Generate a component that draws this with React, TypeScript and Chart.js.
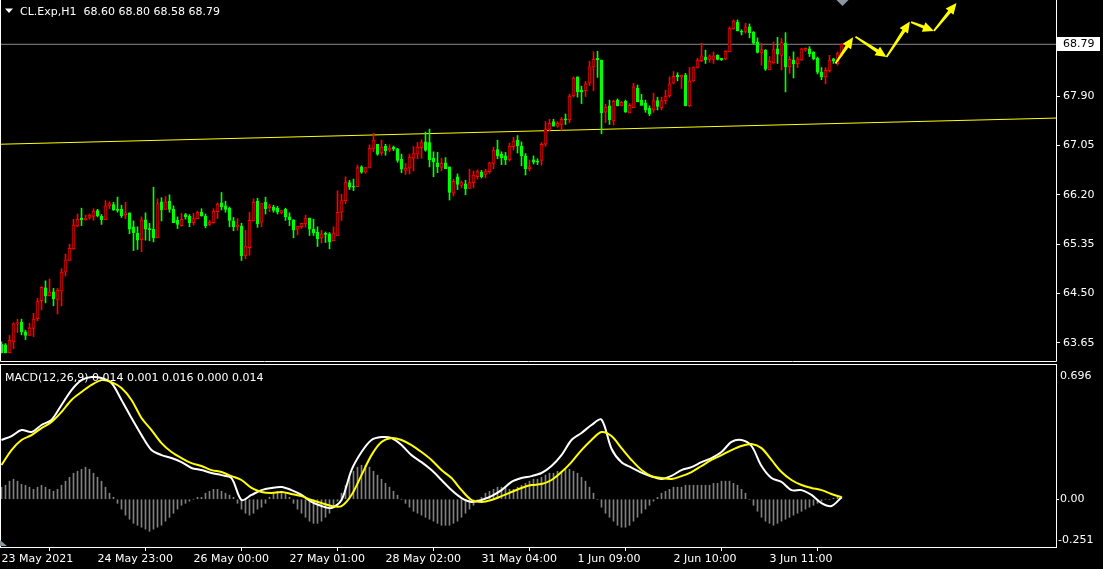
import React, { useEffect, useRef } from "react";
import { Chart, registerables } from "chart.js";

Chart.register(...registerables);

const FONT = "'DejaVu Sans', 'Liberation Sans', sans-serif";
const RED = "#ff0000";
const GREEN = "#00ff00";
const YELLOW = "#ffff00";

// ---------------- price data (CL.Exp, H1) ----------------
const opens = [
  63.63, 63.62, 63.48, 63.67, 63.98, 64.01, 63.84, 63.78, 63.90, 64.07,
  64.38, 64.60, 64.46, 64.53, 64.40, 64.54, 64.88, 65.07, 65.27, 65.66,
  65.80, 65.77, 65.81, 65.83, 65.93, 65.83, 65.77, 66.01, 66.03, 65.95,
  65.95, 65.86, 65.89, 65.65, 65.54, 65.43, 65.77, 65.61, 65.61, 65.46,
  66.08, 65.95, 66.09, 65.95, 65.76, 65.67, 65.86, 65.83, 65.72, 65.79,
  65.90, 65.83, 65.69, 65.72, 65.91, 66.06, 66.01, 65.97, 65.75, 65.65,
  65.66, 65.15, 65.29, 65.75, 66.09, 65.73, 66.07, 65.98, 65.99, 65.97,
  65.89, 65.95, 65.82, 65.77, 65.61, 65.65, 65.70, 65.80, 65.61, 65.56,
  65.46, 65.53, 65.53, 65.41, 65.50, 65.90, 66.10, 66.41, 66.34, 66.34,
  66.68, 66.59, 66.67, 67.00, 67.07, 66.92, 67.04, 66.97, 67.02, 66.99,
  66.81, 66.62, 66.66, 66.83, 66.90, 67.01, 67.11, 67.10, 66.83, 66.75,
  66.67, 66.75, 66.68, 66.23, 66.51, 66.36, 66.39, 66.31, 66.41, 66.51,
  66.59, 66.55, 66.60, 66.74, 66.98, 66.90, 66.87, 66.80, 67.03, 67.14,
  67.04, 66.87, 66.65, 66.80, 66.78, 66.79, 67.07, 67.33, 67.46, 67.38,
  67.41, 67.50, 67.49, 67.90, 68.23, 68.00, 67.99, 68.12, 68.40, 68.55,
  68.52, 67.62, 67.73, 67.47, 67.83, 67.73, 67.81, 67.61, 67.70, 68.03,
  67.83, 67.78, 67.69, 67.66, 67.82, 67.70, 67.82, 67.90, 68.12, 68.26,
  68.23, 68.26, 67.73, 68.16, 68.39, 68.51, 68.57, 68.53, 68.53, 68.60,
  68.55, 68.54, 68.66, 69.06, 69.17, 69.01, 69.01, 69.09, 69.00, 68.83,
  68.64, 68.69, 68.35, 68.47, 68.71, 68.60, 68.81, 68.40, 68.52, 68.45,
  68.52, 68.69, 68.71, 68.66, 68.55, 68.31, 68.23, 68.33, 68.54, 68.45, 68.60,
];
const highs = [
  63.67, 63.64, 63.78, 64.00, 64.06, 64.06, 63.87, 63.99, 64.16, 64.42,
  64.62, 64.72, 64.75, 64.59, 64.59, 64.93, 65.18, 65.35, 65.78, 65.87,
  65.97, 65.85, 65.87, 65.96, 65.95, 65.86, 66.10, 66.08, 66.07, 66.16,
  66.02, 66.07, 65.89, 65.75, 65.65, 65.82, 65.89, 65.71, 66.33, 66.13,
  66.15, 66.17, 66.20, 66.01, 65.82, 65.88, 65.88, 65.86, 65.88, 65.92,
  65.96, 65.87, 65.76, 65.96, 66.06, 66.24, 66.09, 65.99, 65.81, 65.79,
  65.71, 65.59, 65.90, 66.13, 66.14, 66.05, 66.16, 66.04, 66.02, 66.00,
  65.93, 65.97, 65.89, 65.77, 65.66, 65.71, 65.85, 65.80, 65.78, 65.65,
  65.59, 65.56, 65.55, 65.65, 66.27, 66.21, 66.51, 66.45, 66.47, 66.71,
  66.70, 66.67, 67.06, 67.26, 67.07, 67.14, 67.07, 67.06, 67.04, 67.00,
  66.90, 66.74, 66.90, 67.03, 67.10, 67.15, 67.28, 67.33, 66.94, 66.93,
  66.83, 66.84, 66.68, 66.47, 66.56, 66.44, 66.45, 66.64, 66.61, 66.63,
  66.62, 66.64, 66.76, 67.02, 67.14, 66.94, 66.93, 67.09, 67.19, 67.22,
  67.11, 66.91, 66.80, 66.87, 66.82, 67.10, 67.46, 67.50, 67.50, 67.46,
  67.53, 67.59, 67.93, 68.23, 68.23, 68.07, 68.15, 68.50, 68.66, 68.67,
  68.52, 67.76, 67.83, 67.83, 67.85, 67.81, 67.83, 67.77, 68.12, 68.09,
  67.93, 67.83, 67.73, 67.95, 67.88, 67.88, 68.00, 68.23, 68.32, 68.30,
  68.26, 68.29, 68.39, 68.40, 68.55, 68.81, 68.69, 68.61, 68.66, 68.61,
  68.55, 68.68, 69.09, 69.21, 69.21, 69.04, 69.15, 69.14, 69.01, 68.90,
  68.81, 68.70, 68.58, 68.83, 68.91, 68.89, 68.99, 68.58, 68.66, 68.57,
  68.72, 68.73, 68.75, 68.66, 68.57, 68.39, 68.39, 68.60, 68.55, 68.66, 68.80,
];
const lows = [
  63.48, 63.48, 63.48, 63.55, 63.83, 63.79, 63.71, 63.78, 63.76, 64.03,
  64.22, 64.34, 64.46, 64.29, 64.15, 64.29, 64.80, 65.07, 65.26, 65.65,
  65.67, 65.76, 65.78, 65.76, 65.82, 65.69, 65.77, 65.96, 65.93, 65.90,
  65.81, 65.79, 65.53, 65.24, 65.26, 65.22, 65.42, 65.41, 65.39, 65.46,
  65.75, 65.95, 65.90, 65.72, 65.62, 65.66, 65.78, 65.65, 65.68, 65.79,
  65.83, 65.63, 65.67, 65.71, 65.79, 65.94, 65.90, 65.65, 65.58, 65.59,
  65.07, 65.10, 65.16, 65.75, 65.64, 65.65, 65.87, 65.91, 65.90, 65.87,
  65.87, 65.76, 65.67, 65.46, 65.51, 65.62, 65.64, 65.50, 65.50, 65.31,
  65.37, 65.38, 65.27, 65.41, 65.50, 65.76, 66.05, 66.29, 66.27, 66.34,
  66.57, 66.57, 66.66, 66.94, 66.88, 66.88, 66.88, 66.94, 66.96, 66.76,
  66.58, 66.55, 66.56, 66.61, 66.82, 66.83, 66.95, 66.68, 66.51, 66.58,
  66.61, 66.65, 66.11, 66.18, 66.29, 66.32, 66.20, 66.31, 66.32, 66.47,
  66.49, 66.49, 66.57, 66.65, 66.82, 66.72, 66.72, 66.78, 66.97, 66.92,
  66.70, 66.54, 66.61, 66.73, 66.72, 66.71, 67.03, 67.30, 67.38, 67.36,
  67.31, 67.41, 67.44, 67.88, 67.88, 67.77, 67.89, 68.08, 67.99, 68.22,
  67.25, 67.44, 67.41, 67.40, 67.73, 67.73, 67.62, 67.61, 67.70, 67.80,
  67.74, 67.62, 67.56, 67.62, 67.66, 67.66, 67.76, 67.88, 68.11, 68.16,
  68.03, 67.73, 67.72, 68.15, 68.38, 68.49, 68.46, 68.48, 68.46, 68.52,
  68.51, 68.52, 68.66, 69.05, 69.02, 68.95, 68.98, 68.90, 68.79, 68.64,
  68.43, 68.34, 68.35, 68.46, 68.46, 68.35, 67.97, 68.29, 68.21, 68.39,
  68.51, 68.67, 68.58, 68.52, 68.28, 68.18, 68.11, 68.31, 68.46, 68.43, 68.58,
];
const closes = [
  63.48, 63.48, 63.70, 63.98, 63.99, 63.84, 63.78, 63.91, 64.06, 64.37,
  64.61, 64.46, 64.53, 64.41, 64.56, 64.87, 65.08, 65.28, 65.68, 65.78,
  65.77, 65.80, 65.85, 65.92, 65.84, 65.77, 66.01, 66.05, 65.94, 65.93,
  65.84, 65.89, 65.61, 65.55, 65.42, 65.77, 65.61, 65.60, 65.46, 66.05,
  65.94, 66.08, 65.95, 65.72, 65.69, 65.78, 65.82, 65.72, 65.79, 65.90,
  65.84, 65.67, 65.73, 65.92, 66.04, 65.99, 65.95, 65.76, 65.65, 65.68,
  65.15, 65.31, 65.76, 66.07, 65.70, 66.05, 65.96, 66.01, 65.93, 65.90,
  65.93, 65.82, 65.77, 65.59, 65.66, 65.71, 65.79, 65.61, 65.55, 65.44,
  65.53, 65.52, 65.39, 65.54, 65.90, 66.10, 66.42, 66.33, 66.33, 66.67,
  66.59, 66.67, 67.00, 67.14, 66.90, 67.02, 66.96, 67.00, 66.99, 66.79,
  66.64, 66.66, 66.85, 66.91, 67.02, 67.10, 66.97, 66.80, 66.77, 66.68,
  66.74, 66.65, 66.24, 66.43, 66.38, 66.41, 66.30, 66.41, 66.54, 66.60,
  66.51, 66.61, 66.75, 66.97, 66.87, 66.84, 66.80, 67.04, 67.13, 67.04,
  66.87, 66.65, 66.68, 66.76, 66.76, 67.07, 67.33, 67.43, 67.38, 67.43,
  67.50, 67.49, 67.90, 68.21, 67.97, 67.97, 68.11, 68.40, 68.53, 68.52,
  67.61, 67.71, 67.49, 67.81, 67.73, 67.79, 67.62, 67.74, 68.06, 67.80,
  67.74, 67.66, 67.59, 67.82, 67.72, 67.82, 67.90, 68.11, 68.24, 68.23,
  68.26, 67.73, 68.16, 68.39, 68.52, 68.59, 68.52, 68.59, 68.59, 68.53,
  68.52, 68.67, 69.06, 69.19, 69.02, 69.00, 69.09, 68.99, 68.81, 68.65,
  68.70, 68.36, 68.50, 68.70, 68.62, 68.82, 68.40, 68.53, 68.45, 68.54,
  68.71, 68.72, 68.63, 68.54, 68.31, 68.23, 68.34, 68.52, 68.50, 68.63, 68.79,
];

const priceTicks = [63.65, 64.5, 65.35, 66.2, 67.05, 67.9];
const lastPrice = 68.79;
const priceMin = 63.323;
const priceMax = 69.552;
const headerText = "CL.Exp,H1  68.60 68.80 68.58 68.79";

// trend line anchors (bar index, price)
const trendLine = [
  { x: -0.375, y: 67.07 },
  { x: 263.625, y: 67.52 },
];
// projected zig-zag arrows (bar index, price)
const arrowFrom = [
  [208.5, 68.46],
  [213.5, 68.92],
  [221.25, 68.57],
  [227.4, 69.17],
  [233.1, 69.02],
];
const arrowTo = [
  [212.9, 68.91],
  [221.25, 68.57],
  [227.1, 69.18],
  [233.1, 69.02],
  [238.75, 69.5],
];

// time axis
const timeTickBars = [0, 24, 48, 72, 96, 120, 144, 168, 192];
const timeTickLabels = [
  "23 May 2021",
  "24 May 23:00",
  "26 May 00:00",
  "27 May 01:00",
  "28 May 02:00",
  "31 May 04:00",
  "1 Jun 09:00",
  "2 Jun 10:00",
  "3 Jun 11:00",
];

// ---------------- MACD data ----------------
const macdHeader = "MACD(12,26,9) 0.014 0.001 0.016 0.000 0.014";
const macdMin = -0.251;
const macdMax = 0.696;
const macdAt = [
  0, 2.5, 5, 7.5, 10, 12.5, 15, 17.5, 20, 22.5,
  25, 27.5, 30, 32.5, 35, 37.5, 40, 42.5, 45, 47.5,
  50, 52.5, 55, 57.5, 60, 62.5, 65, 67.5, 70, 72.5,
  75, 77.5, 80, 82.5, 85, 87.5, 90, 92.5, 95, 97.5,
  100, 102.5, 105, 107.5, 110, 112.5, 115, 117.5, 120, 122.5,
  125, 127.5, 130, 132.5, 135, 137.5, 140, 142.5, 145, 147.5,
  150, 152.5, 155, 157.5, 160, 162.5, 165, 167.5, 170, 172.5,
  175, 177.5, 180, 182.5, 185, 187.5, 190, 192.5, 195, 197.5,
  200, 202.5, 205, 207.5, 210,
];
const macdMain = [
  0.305, 0.325, 0.356, 0.346, 0.382, 0.408, 0.485, 0.562, 0.613, 0.629,
  0.624, 0.598, 0.511, 0.418, 0.33, 0.253, 0.227, 0.212, 0.191, 0.161,
  0.15, 0.135, 0.124, 0.109, -0.004, 0.022, 0.047, 0.058, 0.063, 0.047,
  0.022, -0.014, -0.035, -0.045, -0.004, 0.15, 0.243, 0.305, 0.32, 0.315,
  0.279, 0.227, 0.191, 0.15, 0.099, 0.047, 0.006, -0.014, -0.004, 0.016,
  0.047, 0.089, 0.109, 0.119, 0.135, 0.171, 0.227, 0.305, 0.341, 0.382,
  0.41, 0.26, 0.19, 0.163, 0.137, 0.117, 0.104, 0.12, 0.15, 0.165,
  0.191, 0.212, 0.243, 0.295, 0.305, 0.274, 0.171, 0.109, 0.089, 0.047,
  0.047, 0.022, -0.02, -0.035, 0.01,
];
const macdSignal = [
  0.176, 0.253, 0.305, 0.33, 0.366, 0.397, 0.449, 0.511, 0.552, 0.588,
  0.613, 0.603, 0.572, 0.511, 0.418, 0.356, 0.289, 0.243, 0.212, 0.186,
  0.171, 0.15, 0.14, 0.119, 0.099, 0.058, 0.037, 0.032, 0.037, 0.027,
  0.016, -0.004, -0.02, -0.035, -0.035, 0.022, 0.124, 0.227, 0.294, 0.315,
  0.305, 0.279, 0.243, 0.202, 0.15, 0.109, 0.047, -0.004, -0.014, -0.004,
  0.016, 0.037, 0.058, 0.073, 0.078, 0.099, 0.14, 0.191, 0.253, 0.305,
  0.346, 0.325, 0.263, 0.202, 0.15, 0.119, 0.109, 0.104, 0.119, 0.14,
  0.171, 0.202, 0.227, 0.253, 0.274, 0.284, 0.263, 0.202, 0.14, 0.099,
  0.073, 0.058, 0.047, 0.027, 0.01,
];
const macdHist = [
  0.062, 0.072, 0.093, 0.103, 0.093, 0.077, 0.072, 0.062, 0.051, 0.062,
  0.072, 0.062, 0.051, 0.041, 0.051, 0.072, 0.093, 0.113, 0.134, 0.144,
  0.154, 0.165, 0.154, 0.134, 0.113, 0.093, 0.062, 0.031, 0.01, -0.021,
  -0.051, -0.082, -0.103, -0.124, -0.134, -0.144, -0.154, -0.165, -0.154, -0.144,
  -0.134, -0.113, -0.093, -0.072, -0.051, -0.031, -0.021, -0.01, 0, 0.01,
  0.01, 0.031, 0.041, 0.051, 0.051, 0.041, 0.031, 0.021, 0.01, -0.021,
  -0.051, -0.072, -0.082, -0.072, -0.051, -0.041, -0.021, 0.01, 0.031, 0.041,
  0.041, 0.031, 0.01, -0.021, -0.051, -0.072, -0.093, -0.113, -0.124, -0.124,
  -0.113, -0.093, -0.072, -0.041, -0.01, 0.031, 0.072, 0.113, 0.144, 0.165,
  0.175, 0.175, 0.165, 0.144, 0.124, 0.103, 0.082, 0.062, 0.041, 0.021,
  0, -0.021, -0.041, -0.062, -0.072, -0.082, -0.093, -0.103, -0.113, -0.124,
  -0.134, -0.134, -0.134, -0.124, -0.113, -0.093, -0.072, -0.051, -0.031, -0.01,
  0.01, 0.031, 0.041, 0.051, 0.062, 0.062, 0.062, 0.051, 0.051, 0.062,
  0.072, 0.082, 0.093, 0.103, 0.103, 0.113, 0.124, 0.134, 0.134, 0.144,
  0.144, 0.154, 0.154, 0.144, 0.134, 0.113, 0.093, 0.062, 0.031, 0,
  -0.041, -0.072, -0.093, -0.113, -0.134, -0.144, -0.144, -0.134, -0.113, -0.093,
  -0.072, -0.051, -0.031, -0.01, 0.01, 0.031, 0.041, 0.051, 0.062, 0.062,
  0.062, 0.072, 0.072, 0.072, 0.072, 0.072, 0.072, 0.072, 0.082, 0.082,
  0.093, 0.093, 0.093, 0.082, 0.072, 0.051, 0.031, 0, -0.031, -0.062,
  -0.093, -0.113, -0.124, -0.134, -0.124, -0.113, -0.103, -0.093, -0.082, -0.072,
  -0.062, -0.051, -0.041, -0.031, -0.021, -0.01, 0, 0, 0.005, 0.01, 0.014,
];

// ---------------- layout constants ----------------
const X_MIN = -0.375;
const X_MAX = 263.625;
const AXIS_W = 47;

function drawArrow(ctx: CanvasRenderingContext2D, x1: number, y1: number, x2: number, y2: number) {
  const dx = x2 - x1;
  const dy = y2 - y1;
  const len = Math.hypot(dx, dy);
  if (len < 1) return;
  const ux = dx / len;
  const uy = dy / len;
  const nx = -uy;
  const ny = ux;
  const head = Math.min(11, len * 0.45);
  const hw = 5;
  const sw = 1.7;
  const bx = x2 - ux * head;
  const by = y2 - uy * head;
  ctx.beginPath();
  ctx.moveTo(x1 + nx * 0.9, y1 + ny * 0.9);
  ctx.lineTo(bx + nx * sw, by + ny * sw);
  ctx.lineTo(bx + nx * hw, by + ny * hw);
  ctx.lineTo(x2, y2);
  ctx.lineTo(bx - nx * hw, by - ny * hw);
  ctx.lineTo(bx - nx * sw, by - ny * sw);
  ctx.lineTo(x1 - nx * 0.9, y1 - ny * 0.9);
  ctx.closePath();
  ctx.fill();
}

const mainOverlay = {
  id: "mainOverlay",
  afterDatasetsDraw(chart: any) {
    const { ctx, chartArea: a } = chart;
    const xs = chart.scales.x;
    const ys = chart.scales.y;
    ctx.save();
    // arrows
    ctx.fillStyle = YELLOW;
    for (let i = 0; i < arrowFrom.length; i++) {
      drawArrow(
        ctx,
        xs.getPixelForValue(arrowFrom[i][0]),
        ys.getPixelForValue(arrowFrom[i][1]),
        xs.getPixelForValue(arrowTo[i][0]),
        ys.getPixelForValue(arrowTo[i][1])
      );
    }
    // frame (left, right, bottom)
    ctx.strokeStyle = "#ffffff";
    ctx.lineWidth = 1;
    ctx.beginPath();
    ctx.moveTo(a.left + 0.5, a.top);
    ctx.lineTo(a.left + 0.5, a.bottom - 0.5);
    ctx.lineTo(a.right + 0.5, a.bottom - 0.5);
    ctx.lineTo(a.right + 0.5, a.top);
    ctx.stroke();
    // chart shift marker
    const sx = xs.getPixelForValue(closes.length - 1 + 0.25);
    ctx.fillStyle = "#8c96a0";
    ctx.beginPath();
    ctx.moveTo(sx - 6, a.top);
    ctx.lineTo(sx + 6, a.top);
    ctx.lineTo(sx, a.top + 6);
    ctx.closePath();
    ctx.fill();
    // current price label
    const py = Math.round(ys.getPixelForValue(lastPrice));
    ctx.fillStyle = "#ffffff";
    ctx.fillRect(a.right + 1, py - 7, 43, 14);
    ctx.fillStyle = "#000000";
    ctx.font = `11px ${FONT}`;
    ctx.textBaseline = "middle";
    ctx.textAlign = "left";
    ctx.fillText(lastPrice.toFixed(2), a.right + 7, py + 0.5);
    // header
    ctx.fillStyle = "#ffffff";
    ctx.beginPath();
    ctx.moveTo(5, 8.5);
    ctx.lineTo(13, 8.5);
    ctx.lineTo(9, 13);
    ctx.closePath();
    ctx.fill();
    ctx.textBaseline = "alphabetic";
    ctx.fillText(headerText, 20, 15);
    ctx.restore();
  },
};

const macdOverlay = {
  id: "macdOverlay",
  afterDatasetsDraw(chart: any) {
    const { ctx, chartArea: a } = chart;
    ctx.save();
    ctx.strokeStyle = "#ffffff";
    ctx.lineWidth = 1;
    ctx.strokeRect(a.left + 0.5, a.top + 0.5, a.right - a.left, a.bottom - a.top - 1);
    ctx.font = `11px ${FONT}`;
    ctx.fillStyle = "#ffffff";
    ctx.textAlign = "left";
    ctx.textBaseline = "middle";
    ctx.fillText(macdMax.toFixed(3), a.right + 4, a.top + 12);
    ctx.fillText(macdMin.toFixed(3), a.right + 2, a.bottom - 8);
    ctx.textBaseline = "alphabetic";
    ctx.fillText(macdHeader, 5, a.top + 17);
    // fixed-scale marker
    ctx.fillStyle = "#8c96a0";
    ctx.beginPath();
    ctx.moveTo(a.left, a.bottom - 8);
    ctx.lineTo(a.left + 7, a.bottom - 2);
    ctx.lineTo(a.left, a.bottom - 2);
    ctx.closePath();
    ctx.fill();
    ctx.restore();
  },
};

function candleColor(i: number) {
  return closes[i] >= opens[i] ? RED : GREEN;
}

export default function App() {
  const mainRef = useRef<HTMLCanvasElement>(null);
  const macdRef = useRef<HTMLCanvasElement>(null);

  useEffect(() => {
    document.body.style.margin = "0";
    document.body.style.background = "#000";
    const font = { family: FONT, size: 11 };

    const mainChart = new Chart(mainRef.current as HTMLCanvasElement, {
      type: "bar",
      data: {
        datasets: [
          {
            type: "bar",
            label: "body",
            data: opens.map((o, i) => ({ x: i, y: [o, closes[i]] })) as any,
            backgroundColor: opens.map((o, i) => (closes[i] >= o ? "#000000" : GREEN)),
            borderColor: opens.map((_, i) => candleColor(i)),
            borderWidth: 1,
            borderSkipped: false,
            barThickness: 3,
            minBarLength: 1,
            grouped: false,
          } as any,
          {
            type: "bar",
            label: "wick",
            data: lows.map((l, i) => ({ x: i, y: [l, highs[i]] })) as any,
            backgroundColor: opens.map((_, i) => candleColor(i)),
            borderWidth: 0,
            barThickness: 1,
            grouped: false,
          } as any,
          {
            type: "line",
            label: "trend",
            data: trendLine as any,
            borderColor: YELLOW,
            borderWidth: 1,
            pointRadius: 0,
          } as any,
          {
            type: "line",
            label: "bid",
            data: [
              { x: X_MIN, y: lastPrice },
              { x: X_MAX, y: lastPrice },
            ] as any,
            borderColor: "#8a8a8a",
            borderWidth: 1,
            pointRadius: 0,
          } as any,
        ],
      },
      options: {
        responsive: false,
        animation: false,
        events: [],
        layout: { padding: 0 },
        plugins: { legend: { display: false }, tooltip: { enabled: false } },
        scales: {
          x: { type: "linear", min: X_MIN, max: X_MAX, display: false, offset: false },
          y: {
            type: "linear",
            position: "right",
            min: priceMin,
            max: priceMax,
            afterBuildTicks: (s: any) => {
              s.ticks = priceTicks.map((v) => ({ value: v }));
            },
            afterFit: (s: any) => {
              s.width = AXIS_W;
              s.paddingTop = 0;
              s.paddingBottom = 0;
            },
            grid: { drawOnChartArea: false, drawTicks: true, tickLength: 4, color: "#ffffff" },
            border: { display: false },
            ticks: {
              color: "#ffffff",
              font,
              padding: 3,
              crossAlign: "near",
              callback: (v: any) => Number(v).toFixed(2),
            },
          },
        },
      } as any,
      plugins: [mainOverlay],
    });

    const macdChart = new Chart(macdRef.current as HTMLCanvasElement, {
      type: "bar",
      data: {
        datasets: [
          {
            type: "line",
            label: "signal",
            data: macdAt.map((x, i) => ({ x, y: macdSignal[i] })) as any,
            borderColor: YELLOW,
            borderWidth: 2,
            pointRadius: 0,
            tension: 0.3,
          } as any,
          {
            type: "line",
            label: "macd",
            data: macdAt.map((x, i) => ({ x, y: macdMain[i] })) as any,
            borderColor: "#ffffff",
            borderWidth: 2,
            pointRadius: 0,
            tension: 0.3,
          } as any,
          {
            type: "bar",
            label: "hist",
            data: macdHist.map((v, i) => ({ x: i, y: v })) as any,
            backgroundColor: "#808080",
            borderWidth: 0,
            barThickness: 1,
            grouped: false,
          } as any,
        ],
      },
      options: {
        responsive: false,
        animation: false,
        events: [],
        layout: { padding: { top: 2, left: 0, right: 0, bottom: 0 } },
        plugins: { legend: { display: false }, tooltip: { enabled: false } },
        scales: {
          x: {
            type: "linear",
            min: X_MIN,
            max: X_MAX,
            offset: false,
            position: "bottom",
            afterBuildTicks: (s: any) => {
              s.ticks = timeTickBars.map((v) => ({ value: v }));
            },
            afterFit: (s: any) => {
              s.height = 21;
              s.paddingLeft = 0;
              s.paddingRight = 0;
            },
            grid: { drawOnChartArea: false, drawTicks: true, tickLength: 3, color: "#ffffff" },
            border: { display: false },
            ticks: {
              color: "#ffffff",
              font,
              padding: 2,
              align: "start",
              maxRotation: 0,
              autoSkip: false,
              callback: (_v: any, i: number) => timeTickLabels[i],
            },
          },
          y: {
            type: "linear",
            position: "right",
            min: macdMin,
            max: macdMax,
            afterBuildTicks: (s: any) => {
              s.ticks = [{ value: 0 }];
            },
            afterFit: (s: any) => {
              s.width = AXIS_W;
              s.paddingTop = 0;
              s.paddingBottom = 0;
            },
            grid: { drawOnChartArea: false, drawTicks: true, tickLength: 3, color: "#ffffff" },
            border: { display: false },
            ticks: {
              color: "#ffffff",
              font,
              padding: 1,
              crossAlign: "near",
              callback: (v: any) => Number(v).toFixed(2),
            },
          },
        },
      } as any,
      plugins: [macdOverlay],
    });

    return () => {
      mainChart.destroy();
      macdChart.destroy();
    };
  }, []);

  return (
    <div
      style={{
        position: "fixed",
        left: 0,
        top: 0,
        width: 1103,
        height: 569,
        background: "#000000",
        overflow: "hidden",
      }}
    >
      <canvas
        ref={mainRef}
        width={1103}
        height={362}
        style={{ position: "absolute", left: 0, top: 0, width: 1103, height: 362, display: "block" }}
      />
      <canvas
        ref={macdRef}
        width={1103}
        height={207}
        style={{ position: "absolute", left: 0, top: 362, width: 1103, height: 207, display: "block" }}
      />
    </div>
  );
}
